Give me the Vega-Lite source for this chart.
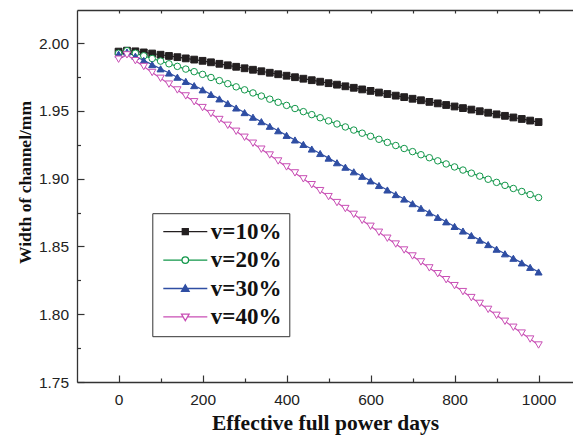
{
  "$schema": "https://vega.github.io/schema/vega-lite/v6.json",
  "width": 496,
  "height": 372,
  "autosize": {"type": "none"},
  "padding": {"left": 77, "top": 10, "right": 0, "bottom": 53},
  "background": "white",
  "config": {"view": {"stroke": null}, "axis": {"grid": false}},
  "data": {"values": [
    {"day": 0, "v=10%": 1.9938, "v=20%": 1.9926, "v=30%": 1.9919, "v=40%": 1.9882},
    {"day": 20, "v=10%": 1.9945, "v=20%": 1.9945, "v=30%": 1.9935, "v=40%": 1.9914},
    {"day": 40, "v=10%": 1.9940, "v=20%": 1.9926, "v=30%": 1.9904, "v=40%": 1.9871},
    {"day": 60, "v=10%": 1.9932, "v=20%": 1.9907, "v=30%": 1.9873, "v=40%": 1.9828},
    {"day": 80, "v=10%": 1.9924, "v=20%": 1.9887, "v=30%": 1.9842, "v=40%": 1.9784},
    {"day": 100, "v=10%": 1.9915, "v=20%": 1.9868, "v=30%": 1.9811, "v=40%": 1.9741},
    {"day": 120, "v=10%": 1.9906, "v=20%": 1.9848, "v=30%": 1.9780, "v=40%": 1.9698},
    {"day": 140, "v=10%": 1.9897, "v=20%": 1.9829, "v=30%": 1.9749, "v=40%": 1.9655},
    {"day": 160, "v=10%": 1.9888, "v=20%": 1.9809, "v=30%": 1.9718, "v=40%": 1.9611},
    {"day": 180, "v=10%": 1.9879, "v=20%": 1.9790, "v=30%": 1.9687, "v=40%": 1.9568},
    {"day": 200, "v=10%": 1.9870, "v=20%": 1.9770, "v=30%": 1.9656, "v=40%": 1.9525},
    {"day": 220, "v=10%": 1.9859, "v=20%": 1.9747, "v=30%": 1.9622, "v=40%": 1.9481},
    {"day": 240, "v=10%": 1.9848, "v=20%": 1.9724, "v=30%": 1.9589, "v=40%": 1.9437},
    {"day": 260, "v=10%": 1.9837, "v=20%": 1.9701, "v=30%": 1.9555, "v=40%": 1.9394},
    {"day": 280, "v=10%": 1.9826, "v=20%": 1.9678, "v=30%": 1.9522, "v=40%": 1.9350},
    {"day": 300, "v=10%": 1.9815, "v=20%": 1.9656, "v=30%": 1.9488, "v=40%": 1.9306},
    {"day": 320, "v=10%": 1.9804, "v=20%": 1.9633, "v=30%": 1.9454, "v=40%": 1.9262},
    {"day": 340, "v=10%": 1.9793, "v=20%": 1.9610, "v=30%": 1.9421, "v=40%": 1.9218},
    {"day": 360, "v=10%": 1.9782, "v=20%": 1.9587, "v=30%": 1.9387, "v=40%": 1.9175},
    {"day": 380, "v=10%": 1.9771, "v=20%": 1.9564, "v=30%": 1.9354, "v=40%": 1.9131},
    {"day": 400, "v=10%": 1.9760, "v=20%": 1.9541, "v=30%": 1.9320, "v=40%": 1.9087},
    {"day": 420, "v=10%": 1.9749, "v=20%": 1.9518, "v=30%": 1.9286, "v=40%": 1.9043},
    {"day": 440, "v=10%": 1.9738, "v=20%": 1.9495, "v=30%": 1.9253, "v=40%": 1.8999},
    {"day": 460, "v=10%": 1.9727, "v=20%": 1.9473, "v=30%": 1.9219, "v=40%": 1.8956},
    {"day": 480, "v=10%": 1.9716, "v=20%": 1.9450, "v=30%": 1.9186, "v=40%": 1.8912},
    {"day": 500, "v=10%": 1.9705, "v=20%": 1.9427, "v=30%": 1.9152, "v=40%": 1.8868},
    {"day": 520, "v=10%": 1.9694, "v=20%": 1.9404, "v=30%": 1.9118, "v=40%": 1.8824},
    {"day": 540, "v=10%": 1.9682, "v=20%": 1.9382, "v=30%": 1.9085, "v=40%": 1.8780},
    {"day": 560, "v=10%": 1.9671, "v=20%": 1.9359, "v=30%": 1.9051, "v=40%": 1.8737},
    {"day": 580, "v=10%": 1.9659, "v=20%": 1.9336, "v=30%": 1.9018, "v=40%": 1.8693},
    {"day": 600, "v=10%": 1.9648, "v=20%": 1.9313, "v=30%": 1.8984, "v=40%": 1.8649},
    {"day": 620, "v=10%": 1.9636, "v=20%": 1.9291, "v=30%": 1.8950, "v=40%": 1.8605},
    {"day": 640, "v=10%": 1.9625, "v=20%": 1.9268, "v=30%": 1.8917, "v=40%": 1.8561},
    {"day": 660, "v=10%": 1.9613, "v=20%": 1.9245, "v=30%": 1.8883, "v=40%": 1.8518},
    {"day": 680, "v=10%": 1.9602, "v=20%": 1.9223, "v=30%": 1.8850, "v=40%": 1.8474},
    {"day": 700, "v=10%": 1.9590, "v=20%": 1.9200, "v=30%": 1.8816, "v=40%": 1.8430},
    {"day": 720, "v=10%": 1.9579, "v=20%": 1.9177, "v=30%": 1.8782, "v=40%": 1.8386},
    {"day": 740, "v=10%": 1.9567, "v=20%": 1.9155, "v=30%": 1.8749, "v=40%": 1.8342},
    {"day": 760, "v=10%": 1.9556, "v=20%": 1.9132, "v=30%": 1.8715, "v=40%": 1.8299},
    {"day": 780, "v=10%": 1.9544, "v=20%": 1.9109, "v=30%": 1.8682, "v=40%": 1.8255},
    {"day": 800, "v=10%": 1.9533, "v=20%": 1.9087, "v=30%": 1.8648, "v=40%": 1.8211},
    {"day": 820, "v=10%": 1.9521, "v=20%": 1.9064, "v=30%": 1.8614, "v=40%": 1.8167},
    {"day": 840, "v=10%": 1.9510, "v=20%": 1.9041, "v=30%": 1.8581, "v=40%": 1.8123},
    {"day": 860, "v=10%": 1.9498, "v=20%": 1.9019, "v=30%": 1.8547, "v=40%": 1.8080},
    {"day": 880, "v=10%": 1.9487, "v=20%": 1.8996, "v=30%": 1.8514, "v=40%": 1.8036},
    {"day": 900, "v=10%": 1.9475, "v=20%": 1.8973, "v=30%": 1.8480, "v=40%": 1.7992},
    {"day": 920, "v=10%": 1.9464, "v=20%": 1.8951, "v=30%": 1.8446, "v=40%": 1.7948},
    {"day": 940, "v=10%": 1.9452, "v=20%": 1.8928, "v=30%": 1.8413, "v=40%": 1.7904},
    {"day": 960, "v=10%": 1.9441, "v=20%": 1.8906, "v=30%": 1.8379, "v=40%": 1.7861},
    {"day": 980, "v=10%": 1.9429, "v=20%": 1.8883, "v=30%": 1.8346, "v=40%": 1.7817},
    {"day": 1000, "v=10%": 1.9418, "v=20%": 1.8861, "v=30%": 1.8312, "v=40%": 1.7773}
  ]},
  "transform": [{"fold": ["v=10%", "v=20%", "v=30%", "v=40%"], "as": ["series", "width"]}],
  "layer": [
    {
      "mark": {"type": "point", "opacity": 0},
      "encoding": {
        "x": {"field": "day", "type": "quantitative", "scale": {"domain": [-99, 1082], "nice": false, "zero": false}, "axis": null},
        "y": {"field": "width", "type": "quantitative", "scale": {"domain": [1.75, 2.0245], "nice": false, "zero": false}, "axis": null},
        "stroke": {"field": "series", "type": "nominal",
          "scale": {"domain": ["v=10%", "v=20%", "v=30%", "v=40%"], "range": ["#231f20", "#12974a", "#2f4ea3", "#c94fb5"]},
          "legend": {
            "orient": "none", "legendX": 75.3, "legendY": 203.2, "title": null, "direction": "vertical",
            "padding": 7, "rowPadding": 4.4, "strokeColor": "#333", "fillColor": "white",
            "symbolSize": 4, "symbolOffset": 14.5, "symbolStrokeWidth": 1.3, "symbolOpacity": 1,
            "symbolFillColor": "white", "symbolStrokeColor": "black",
            "labelOffset": 14, "labelFont": "Liberation Serif", "labelFontWeight": "bold", "labelFontSize": 23, "labelColor": "#111"}},
        "fill": {"field": "series", "type": "nominal",
          "scale": {"domain": ["v=10%", "v=20%", "v=30%", "v=40%"], "range": ["#231f20", "white", "#2f4ea3", "white"]},
          "legend": {
            "orient": "none", "legendX": 75.3, "legendY": 203.2, "title": null, "direction": "vertical",
            "padding": 7, "rowPadding": 4.4, "strokeColor": "#333", "fillColor": "white",
            "symbolSize": 4, "symbolOffset": 14.5, "symbolStrokeWidth": 1.3, "symbolOpacity": 1,
            "symbolFillColor": "white", "symbolStrokeColor": "black",
            "labelOffset": 14, "labelFont": "Liberation Serif", "labelFontWeight": "bold", "labelFontSize": 23, "labelColor": "#111"}},
        "shape": {"field": "series", "type": "nominal",
          "scale": {"domain": ["v=10%", "v=20%", "v=30%", "v=40%"], "range": [
            "M-22,0H22M-3,-3H3V3H-3Z",
            "M-22,0H-3.3M3.3,0H22M3.3,0A3.3,3.3 0 1 1 -3.3,0A3.3,3.3 0 1 1 3.3,0Z",
            "M-22,0H22M0,-3.8L3.8,2.8L-3.8,2.8Z",
            "M-22,0H-2M2,0H22M-3.8,-2.8L3.8,-2.8L0,3.8Z"]},
          "legend": {
            "orient": "none", "legendX": 75.3, "legendY": 203.2, "title": null, "direction": "vertical",
            "padding": 7, "rowPadding": 4.4, "strokeColor": "#333", "fillColor": "white",
            "symbolSize": 4, "symbolOffset": 14.5, "symbolStrokeWidth": 1.3, "symbolOpacity": 1,
            "symbolFillColor": "white", "symbolStrokeColor": "black",
            "labelOffset": 14, "labelFont": "Liberation Serif", "labelFontWeight": "bold", "labelFontSize": 23, "labelColor": "#111"}}
      }
    },
    {
      "mark": {"type": "line", "strokeWidth": 1.2},
      "encoding": {
        "x": {"field": "day", "type": "quantitative",
          "axis": {"orient": "bottom", "values": [0, 200, 400, 600, 800, 1000], "format": "d",
            "tickSize": -7, "tickWidth": 1.2, "tickColor": "#333", "domainColor": "#333", "domainWidth": 1.3,
            "labelFont": "Liberation Sans", "labelFontSize": 15.5, "labelColor": "#222", "labelPadding": 17,
            "labelFlush": false, "labelOverlap": false,
            "title": "Effective full power days", "titleFont": "Liberation Serif", "titleFontWeight": "bold",
            "titleFontSize": 21.5, "titleColor": "#111", "titlePadding": 5}},
        "y": {"field": "width", "type": "quantitative",
          "axis": {"orient": "left", "values": [1.75, 1.8, 1.85, 1.9, 1.95, 2.0], "format": ".2f",
            "tickSize": -7, "tickWidth": 1.2, "tickColor": "#333", "domainColor": "#333", "domainWidth": 1.3,
            "labelFont": "Liberation Sans", "labelFontSize": 15.5, "labelColor": "#222", "labelPadding": 15.4,
            "labelFlush": false, "labelOverlap": false,
            "title": "Width of channel/mm", "titleFont": "Liberation Serif", "titleFontWeight": "bold",
            "titleFontSize": 17.5, "titleColor": "#111", "titlePadding": 4, "titleY": 172}},
        "stroke": {"field": "series", "type": "nominal", "legend": null}
      }
    },
    {
      "transform": [{"filter": "datum.series === 'v=10%'"}],
      "mark": {"type": "point", "shape": "square", "size": 46, "strokeWidth": 1, "opacity": 1, "fill": "#231f20", "stroke": "#231f20"},
      "encoding": {
        "x": {"field": "day", "type": "quantitative",
          "axis": {"orient": "bottom", "values": [100, 300, 500, 700, 900], "tickSize": -4, "tickWidth": 1.2,
            "tickColor": "#333", "domain": false, "labels": false, "title": null}},
        "y": {"field": "width", "type": "quantitative",
          "axis": {"orient": "left", "values": [1.775, 1.825, 1.875, 1.925, 1.975], "tickSize": -3.5, "tickWidth": 1.2,
            "tickColor": "#333", "domain": false, "labels": false, "title": null}}
      }
    },
    {
      "transform": [{"filter": "datum.series === 'v=20%'"}],
      "mark": {"type": "point", "shape": "circle", "size": 42, "strokeWidth": 1, "opacity": 1, "fill": "white", "stroke": "#12974a"},
      "encoding": {
        "x": {"field": "day", "type": "quantitative",
          "axis": {"orient": "top", "values": [0, 100, 200, 300, 400, 500, 600, 700, 800, 900, 1000], "tickSize": -3,
            "tickWidth": 1.2, "tickColor": "#333", "domainColor": "#333", "domainWidth": 1.3, "labels": false, "title": null}},
        "y": {"field": "width", "type": "quantitative", "axis": null}
      }
    },
    {
      "transform": [{"filter": "datum.series === 'v=30%'"}],
      "mark": {"type": "point", "shape": "triangle-up", "size": 50, "strokeWidth": 1, "opacity": 1, "fill": "#2f4ea3", "stroke": "#2f4ea3"},
      "encoding": {
        "x": {"field": "day", "type": "quantitative", "axis": null},
        "y": {"field": "width", "type": "quantitative", "axis": null}
      }
    },
    {
      "transform": [{"filter": "datum.series === 'v=40%'"}],
      "mark": {"type": "point", "shape": "triangle-down", "size": 54, "strokeWidth": 1, "opacity": 1, "fill": "white", "stroke": "#c94fb5"},
      "encoding": {
        "x": {"field": "day", "type": "quantitative", "axis": null},
        "y": {"field": "width", "type": "quantitative", "axis": null}
      }
    }
  ],
  "resolve": {"axis": {"x": "independent", "y": "independent"}}
}
